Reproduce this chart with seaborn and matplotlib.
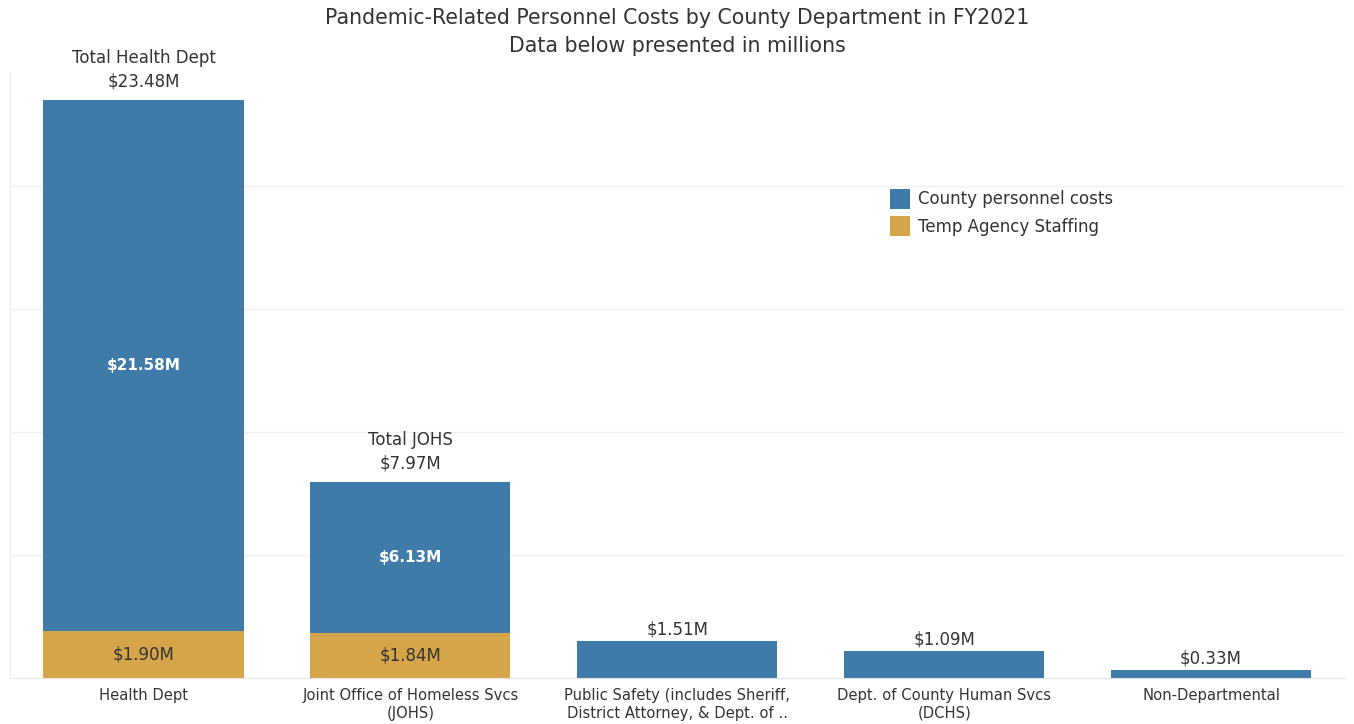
import numpy as np
import pandas as pd
import seaborn as sns
import matplotlib.pyplot as plt

departments = ['Health Dept', 'Joint Office of Homeless Svcs\n(JOHS)',
               'Public Safety (includes Sheriff,\nDistrict Attorney, & Dept. of ..',
               'Dept. of County Human Svcs\n(DCHS)', 'Non-Departmental']
county_costs = [21.58, 6.13, 1.51, 1.09, 0.33]
temp_staffing = [1.90, 1.84, 0.0, 0.0, 0.0]
total_names = ['Total Health Dept', 'Total JOHS', '', '', '']

blue = '#3e7ba8'
gold = '#d6a54a'

df = pd.DataFrame({'Department': departments,
                   'County': county_costs,
                   'Temp': temp_staffing})
df['Total'] = df['County'] + df['Temp']

sns.set_style('white')
plt.rcParams['font.family'] = ['DejaVu Sans']

fig = plt.figure(figsize=(13.54, 7.24), dpi=100)
ax = fig.add_axes([0.0074, 0.0635, 0.9856, 0.837])

# stacked look: totals in blue, temp staffing drawn over the bottom part
sns.barplot(data=df, x='Department', y='Total', color=blue, width=0.75,
            saturation=1, linewidth=0, ax=ax, label='County personnel costs')
sns.barplot(data=df, x='Department', y='Temp', color=gold, width=0.75,
            saturation=1, linewidth=0, ax=ax, label='Temp Agency Staffing')

ax.set_ylim(0, 24.63)
ax.set_xlim(-0.5, 4.5)
ax.set_yticks([5, 10, 15, 20])
ax.set_yticklabels([])
ax.tick_params(axis='y', length=0)
ax.yaxis.grid(True, color='#f0f0f0', linewidth=1)
ax.set_axisbelow(True)
ax.set_xlabel('')
ax.set_ylabel('')
ax.tick_params(axis='x', length=0, labelsize=10.6, colors='#333333', pad=7)
for lbl in ax.get_xticklabels():
    lbl.set_linespacing(1.25)
ax.set_xticks(np.arange(-0.5, 5, 1), minor=True)
ax.tick_params(axis='x', which='minor', length=7, color='#e6e6e6', width=1)
for s in ['top', 'right']:
    ax.spines[s].set_visible(False)
ax.spines['left'].set_color('#ececec')
ax.spines['bottom'].set_color('#e6e6e6')

for i, row in df.iterrows():
    if row['Temp'] > 0:
        ax.text(i, row['Temp'] / 2, f"${row['Temp']:.2f}M", ha='center', va='center',
                fontsize=12, color='#333333')
        ax.text(i, row['Temp'] + row['County'] / 2, f"${row['County']:.2f}M",
                ha='center', va='center', fontsize=11, color='white', fontweight='bold')
        label = f"{total_names[i]}\n${row['Total']:.2f}M"
        off = 7
    else:
        label = f"${row['Total']:.2f}M"
        off = 2
    ax.annotate(label, (i, row['Total']), xytext=(0, off), textcoords='offset points',
                ha='center', va='bottom', fontsize=12, color='#333333', linespacing=1.38)

ax.legend(loc='upper left', bbox_to_anchor=(0.648, 0.832), frameon=False,
          fontsize=12, handlelength=1.2, handleheight=1.47, labelspacing=0.45,
          handletextpad=0.5, labelcolor='#333333')

fig.text(0.5, 0.975, 'Pandemic-Related Personnel Costs by County Department in FY2021',
         ha='center', va='center', fontsize=14.8, color='#333333')
fig.text(0.5, 0.937, 'Data below presented in millions',
         ha='center', va='center', fontsize=14.8, color='#333333')

fig.savefig('out.png', dpi=100)
